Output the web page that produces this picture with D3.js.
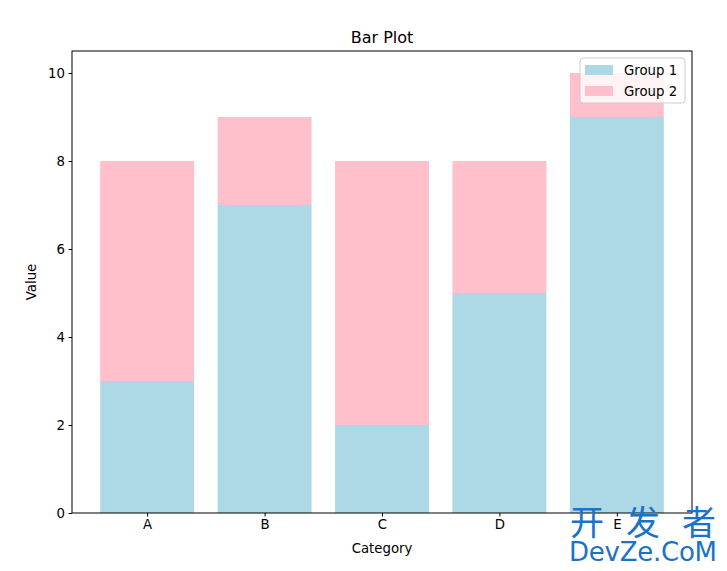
<!DOCTYPE html>
<html><head><meta charset="utf-8">
<script src="https://cdn.jsdelivr.net/npm/d3@7"></script>
<style>body{margin:0;background:#fff}svg{display:block;font-family:"DejaVu Sans",sans-serif}</style>
</head><body>
<script>
const categories = ["A","B","C","D","E"];
const group1 = [3,7,2,5,9];
const group2 = [5,2,6,3,1];
const seriesNames = ["Group 1","Group 2"];
const colors = ["#ADD8E6","#FFC0CB"];
const yTicks = [0,2,4,6,8,10];

const W=727,H=571;
const m={l:72,r:692,t:51,b:513};
const svg=d3.select("body").append("svg").attr("width",W).attr("height",H);

const x=d3.scaleLinear().domain([-0.64,4.64]).range([m.l,m.r]);
const y=d3.scaleLinear().domain([0,10.5]).range([m.b,m.t]);
const bw=x(0.8)-x(0);

const g=svg.append("g");
categories.forEach((c,i)=>{
  g.append("rect").attr("x",x(i-0.4)).attr("width",bw)
   .attr("y",y(group1[i])).attr("height",y(0)-y(group1[i])).attr("fill",colors[0]);
  g.append("rect").attr("x",x(i-0.4)).attr("width",bw)
   .attr("y",y(group1[i]+group2[i])).attr("height",y(group1[i])-y(group1[i]+group2[i])).attr("fill",colors[1]);
});

const xa=svg.append("g").attr("transform",`translate(0,${m.b})`)
  .call(d3.axisBottom(x).tickValues(d3.range(categories.length)).tickFormat(i=>categories[i]).tickSize(3.5).tickPadding(3.5).tickSizeOuter(0));
const ya=svg.append("g").attr("transform",`translate(${m.l},0)`)
  .call(d3.axisLeft(y).tickValues(yTicks).tickSize(3.5).tickPadding(3.5).tickSizeOuter(0));
[xa,ya].forEach(a=>{a.select(".domain").remove();a.selectAll("text").attr("font-size",13.3).attr("fill","#000").attr("font-family","DejaVu Sans");a.selectAll("line").attr("stroke","#000").attr("stroke-width",1);});

svg.append("rect").attr("x",m.l).attr("y",m.t).attr("width",m.r-m.l).attr("height",m.b-m.t)
  .attr("fill","none").attr("stroke","#000").attr("stroke-width",1);

svg.append("text").attr("x",(m.l+m.r)/2).attr("y",43).attr("text-anchor","middle").attr("font-size",16).text("Bar Plot");
svg.append("text").attr("x",(m.l+m.r)/2).attr("y",553).attr("text-anchor","middle").attr("font-size",13.3).text("Category");
svg.append("text").attr("transform",`translate(36,${(m.t+m.b)/2}) rotate(-90)`).attr("text-anchor","middle").attr("font-size",13.3).text("Value");

const lg=svg.append("g").attr("transform","translate(580,58)");
lg.append("rect").attr("width",105).attr("height",45).attr("rx",3).attr("fill","#fff").attr("fill-opacity",0.8).attr("stroke","#ccc");
seriesNames.forEach((s,i)=>{
  lg.append("rect").attr("x",5).attr("y",7+i*21).attr("width",28).attr("height",10).attr("fill",colors[i]);
  lg.append("text").attr("x",44).attr("y",16.5+i*21).attr("font-size",13.3).text(s);
});

// watermark
svg.append("text").attr("x",570).attr("y",535).attr("font-size",34).attr("fill","#1a73c8").attr("font-family","Noto Sans CJK SC").attr("textLength",146).attr("lengthAdjust","spacing").text("开发者");
svg.append("text").attr("x",569).attr("y",561).attr("font-size",26).attr("fill","#1a73c8").attr("font-family","DejaVu Sans").attr("textLength",148).text("DevZe.CoM");
</script>
</body></html>
